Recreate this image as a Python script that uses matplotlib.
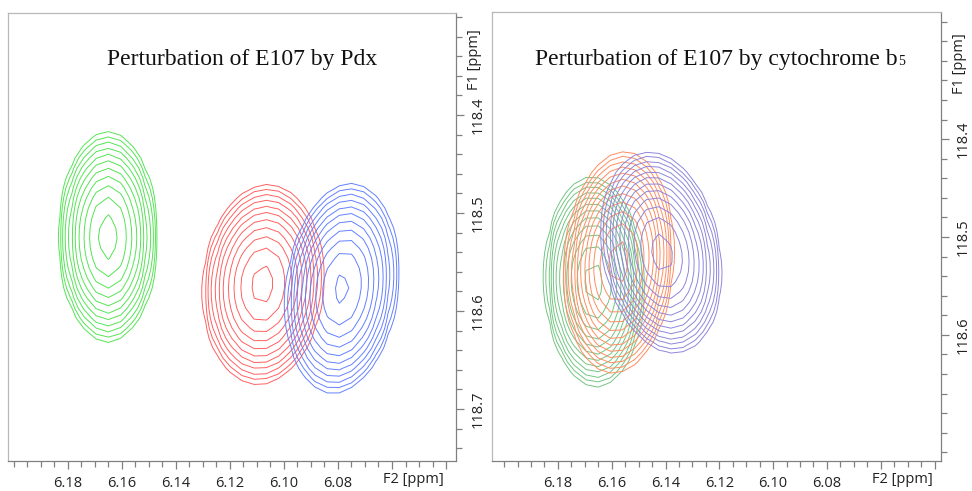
import numpy as np
import matplotlib.pyplot as plt
from matplotlib.ticker import FixedLocator, MultipleLocator

# digital resolution of the 2D spectra (ppm per point)
f2_step = 0.0045
f1_step = 0.0102

# E107 peak, titration with Pdx: free (green), + Pdx (red), + more Pdx (blue)
pdx_colors = ['#55e455', '#ff6060', '#6480ff']
pdx_f2 = [6.1652, 6.1078, 6.0785]
pdx_f1 = [118.5245, 118.573, 118.577]
pdx_lw2 = [0.0074, 0.0091, 0.0085]
pdx_lw1 = [0.0437, 0.0417, 0.0441]
pdx_tilt = [0.0, 0.017, 0.031]   # ppm F2 per ppm F1
pdx_amp = [1.0, 0.97, 0.93]
pdx_levels = [0.05, 0.066, 0.088, 0.118, 0.157, 0.208, 0.277, 0.369, 0.49, 0.65, 0.87]

# E107 peak, titration with cytochrome b5
b5_colors = ['#72c682', '#ff8c60', '#8e86da']
b5_f2 = [6.1666, 6.1573, 6.1415]
b5_f1 = [118.546, 118.526, 118.516]
b5_lw2 = [0.00743, 0.00821, 0.00886]
b5_lw1 = [0.0437, 0.0462, 0.0419]
b5_tilt = [-0.009, 0.019, -0.045]
b5_amp = [1.0, 1.0, 1.0]
b5_levels = [0.05, 0.065, 0.0845, 0.110, 0.143, 0.186, 0.241, 0.314, 0.408, 0.530, 0.689, 0.896]

f2_major = [6.18, 6.16, 6.14, 6.12, 6.10, 6.08, 6.06, 6.04]
f2_labels = ['6.18', '6.16', '6.14', '6.12', '6.10', '6.08', '', '']

f2 = np.arange(6.03, 6.215, f2_step)
f1 = np.arange(118.24, 118.80, f1_step)
X, Y = np.meshgrid(f2, f1)

plt.rcParams['font.family'] = ['Open Sans', 'DejaVu Sans']

fig = plt.figure(figsize=(9.72, 4.91), dpi=100)
W, H = 972, 491


def panel(rect, xlim, ylim, cols, c2, c1, w2, w1, tilt, amp, levels,
          f1_major, f1_labels, f1_title_y):
    l, t, r, b = rect
    ax = fig.add_axes([l / W, 1 - b / H, (r - l) / W, (b - t) / H])
    for col, x0, y0, sx, sy, k, a in zip(cols, c2, c1, w2, w1, tilt, amp):
        dx = X - x0 - k * (Y - y0)
        Z = a * np.exp(-0.5 * (dx / sx) ** 2 - 0.5 * ((Y - y0) / sy) ** 2)
        ax.contour(X, Y, Z, levels=levels, colors=col, linewidths=0.7)
    ax.set_xlim(*xlim)
    ax.set_ylim(*ylim)
    ax.xaxis.set_major_locator(FixedLocator(f2_major))
    ax.xaxis.set_minor_locator(MultipleLocator(0.005))
    ax.set_xticklabels(f2_labels)
    ax.yaxis.tick_right()
    ax.yaxis.set_major_locator(FixedLocator(f1_major))
    ax.yaxis.set_minor_locator(MultipleLocator(0.02))
    ax.set_yticklabels(f1_labels, rotation=90, va='center')
    ax.tick_params(which='both', direction='out', color='#808080', labelcolor='#222222',
                   labelsize=10.5, width=0.9)
    ax.tick_params(which='major', length=5.5, pad=5)
    ax.tick_params(which='minor', length=4.5)
    for s in ['top', 'left']:
        ax.spines[s].set_color('#b8b8b8')
    for s in ['bottom', 'right']:
        ax.spines[s].set_color('#808080')
    for s in ax.spines.values():
        s.set_linewidth(0.9)
    # axis names sit where the last labels would be
    ax.text(6.052, -0.024, 'F2 [ppm]', transform=ax.get_xaxis_transform(),
            ha='center', va='top', fontsize=10.5, color='#222222')
    ax.text(1.024, f1_title_y, 'F1 [ppm]', transform=ax.get_yaxis_transform(),
            ha='left', va='center', rotation=90, fontsize=10.5, color='#222222')
    return ax


ax1 = panel((8, 13, 456, 461), (6.2022, 6.0363), (118.753, 118.296),
            pdx_colors, pdx_f2, pdx_f1, pdx_lw2, pdx_lw1, pdx_tilt, pdx_amp, pdx_levels,
            [118.4, 118.5, 118.6, 118.7], ['118.4', '118.5', '118.6', '118.7'], 118.344)
ax2 = panel((492, 12, 941, 461), (6.2045, 6.0376), (118.729, 118.270),
            b5_colors, b5_f2, b5_f1, b5_lw2, b5_lw1, b5_tilt, b5_amp, b5_levels,
            [118.4, 118.5, 118.6], ['118.4', '118.5', '118.6'], 118.323)

serif = ['Liberation Serif', 'DejaVu Serif']
fig.text(107 / W, 1 - 65 / H, 'Perturbation of E107 by Pdx', family=serif,
         fontsize=17, ha='left', va='baseline', color='#111111')
t2 = fig.text(535 / W, 1 - 65 / H, 'Perturbation of E107 by cytochrome b', family=serif,
              fontsize=17, ha='left', va='baseline', color='#111111')
fig.add_artist(plt.Annotation('5', xy=(1, 0), xycoords=t2, xytext=(0.5, 3.7),
                              textcoords='offset points', family=serif, fontsize=10,
                              ha='left', va='baseline', color='#111111'))

fig.savefig('out.png', dpi=100, facecolor='white')
